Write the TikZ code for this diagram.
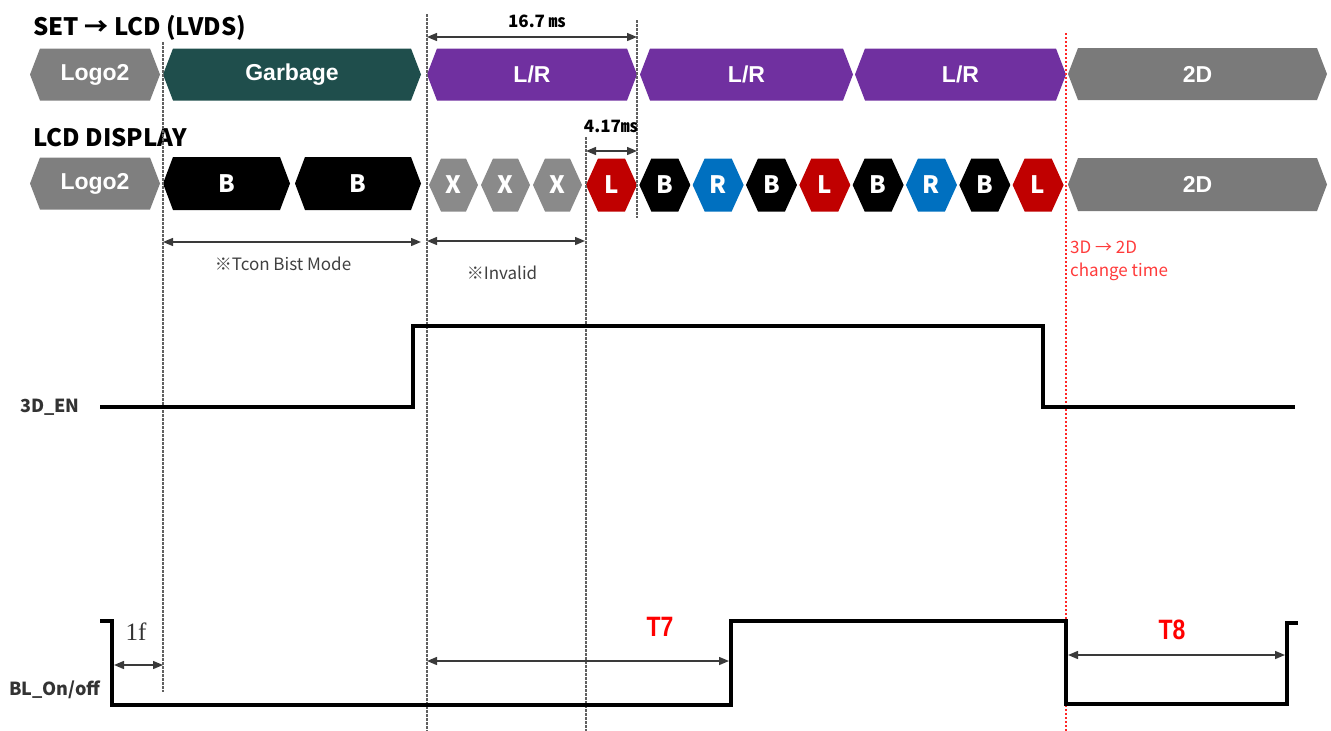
\documentclass[tikz,border=0pt]{standalone}
\usepackage{fontspec}
\setmainfont{Liberation Sans}
\newfontfamily\cjk{Noto Sans CJK KR}
\usetikzlibrary{arrows.meta}
\definecolor{cLogo}{HTML}{7F7F7F}
\definecolor{cGarb}{HTML}{1F4E4C}
\definecolor{cLR}{HTML}{7030A0}
\definecolor{cTwoD}{HTML}{7A7A7A}
\definecolor{cX}{HTML}{8A8A8A}
\definecolor{cL}{HTML}{C00000}
\definecolor{cR}{HTML}{0070C0}
\definecolor{cB}{HTML}{000000}
\definecolor{cDim}{HTML}{3A3A3A}
\definecolor{cNote}{HTML}{FF3B3B}
\newcommand\hexcell[9]{% name, x1, x2, yc, halfh, d, fill, font, text
  \fill[#7] ({#2},{#4}) -- ({#2+#6},{#4-#5}) -- ({#3-#6},{#4-#5}) -- ({#3},{#4})
    -- ({#3-#6},{#4+#5}) -- ({#2+#6},{#4+#5}) -- cycle;
  \node[hexlabel,font=#8] (#1) at ({(#2+#3)/2},{#4}) {#9};}
\begin{document}
\begin{tikzpicture}[x=1pt,y=-1pt,
  hexlabel/.style={text=white,inner sep=0pt},
  guide/.style={draw=gray!75!black,line width=1.3pt,dash pattern=on 2.5pt off 1.5pt},
  redguide/.style={draw=red!85,line width=1.2pt,dash pattern=on 2pt off 2pt},
  dim/.style={draw=cDim,line width=1.4pt,{Triangle[length=10pt,width=8pt]}-{Triangle[length=10pt,width=8pt]}},
  wave/.style={draw=black,line width=3.8pt,line join=miter},
  title/.style={font=\cjk\bfseries\fontsize{24}{27}\selectfont,anchor=west,inner sep=0pt},
  sig/.style={font=\cjk\bfseries\fontsize{18}{21}\selectfont,anchor=west,inner sep=0pt,text=black!80},
  note/.style={font=\cjk\fontsize{17}{20}\selectfont,text=black!75,inner sep=0pt},
  rednote/.style={font=\cjk\fontsize{17}{20}\selectfont,text=cNote,anchor=west,inner sep=0pt},
  tlabel/.style={font=\bfseries\fontsize{28}{32}\selectfont,text=red,inner sep=0pt},
  mslabel/.style={font=\cjk\bfseries\fontsize{17}{20}\selectfont,inner sep=0pt}
]
\path[use as bounding box] (0,0) rectangle (1331,731);

% titles
\node[title] (t1) at (33,28) {SET → LCD (LVDS)};
\node[title] (t2) at (33,138) {LCD DISPLAY};

% row 1
\def\bf{\bfseries\fontsize{23}{27}\selectfont}
\hexcell{logoA}{30}{160}{74.5}{26}{10}{cLogo}{\bf}{Logo2}
\hexcell{garb}{163}{421}{74.5}{26}{10}{cGarb}{\bf}{Garbage}
\hexcell{lrA}{427}{637}{74.5}{26}{10}{cLR}{\bf}{L/R}
\hexcell{lrB}{640}{853}{74.5}{26}{10}{cLR}{\bf}{L/R}
\hexcell{lrC}{855}{1066}{74.5}{26}{10}{cLR}{\bf}{L/R}
\hexcell{twoA}{1068}{1327}{74}{26}{10}{cTwoD}{\bf}{2D}

% row 2
\hexcell{logoB}{30}{160}{183.5}{26}{10}{cLogo}{\bf}{Logo2}
\hexcell{bA}{163}{290}{183.5}{26.5}{10}{cB}{\cjk\bfseries\fontsize{24}{28}\selectfont}{B}
\hexcell{bB}{295}{421}{183.5}{26.5}{10}{cB}{\cjk\bfseries\fontsize{24}{28}\selectfont}{B}
\foreach \i in {0,1,2}{
  \pgfmathsetmacro\xa{429+52*\i}
  \pgfmathsetmacro\xb{\xa+49}
  \hexcell{x\i}{\xa}{\xb}{185}{26.5}{12}{cX}{\cjk\bfseries\fontsize{24}{28}\selectfont}{X}
}
\foreach \i/\c/\t in {0/cL/L,1/cB/B,2/cR/R,3/cB/B,4/cL/L,5/cB/B,6/cR/R,7/cB/B,8/cL/L}{
  \pgfmathsetmacro\xa{586+53.33*\i}
  \pgfmathsetmacro\xb{\xa+51}
  \hexcell{s\i}{\xa}{\xb}{185}{26.5}{12}{\c}{\cjk\bfseries\fontsize{24}{28}\selectfont}{\t}
}
\hexcell{twoB}{1068}{1327}{184.5}{26.5}{10}{cTwoD}{\bf}{2D}

% guide lines
\coordinate (g1t) at (163,42);  \coordinate (g1b) at (163,692);
\coordinate (g2t) at (427,14);  \coordinate (g2b) at (427,731);
\coordinate (g3t) at (637,20);  \coordinate (g3b) at (637,218);
\coordinate (g4t) at (586,137); \coordinate (g4b) at (586,731);
\coordinate (g5t) at (1066,33); \coordinate (g5b) at (1066,731);
\draw[guide] (g1t) -- (g1b);
\draw[guide] (g2t) -- (g2b);
\draw[guide] (g3t) -- (g3b);
\draw[guide] (g4t) -- (g4b);
\draw[redguide] (g5t) -- (g5b);

% dimension arrows, top
\coordinate (d1a) at (427,37); \coordinate (d1b) at (637,37);
\draw[dim] (d1a) -- (d1b);
\node[mslabel] (ms1) at (537,21) {16.7 ㎳};
\coordinate (d2a) at (586,151); \coordinate (d2b) at (637,151);
\draw[dim] (d2a) -- (d2b);
\node[mslabel] (ms2) at (611,126) {4.17㎳};
\coordinate (d3a) at (163,242); \coordinate (d3b) at (421,242);
\draw[dim] (d3a) -- (d3b);
\node[note] (n1) at (283,264) {※Tcon Bist Mode};
\coordinate (d4a) at (427,241); \coordinate (d4b) at (585,241);
\draw[dim] (d4a) -- (d4b);
\node[note] (n2) at (502,273) {※Invalid};
\node[rednote] (n3) at (1070,247) {3D → 2D};
\node[rednote] (n4) at (1070,272) {change time};

% 3D_EN
\node[sig] (en) at (20,407) {3D\_EN};
\coordinate (e0) at (100,407);
\coordinate (e1) at (413,407);
\coordinate (e2) at (413,326);
\coordinate (e3) at (1043,326);
\coordinate (e4) at (1043,407);
\coordinate (e5) at (1295,407);
\draw[wave] (e0) -- (e1) -- (e2) -- (e3) -- (e4) -- (e5);

% BL_On/off
\node[sig] (bl) at (9,690) {BL\_On/off};
\coordinate (b0) at (100,621);
\coordinate (b1) at (112,621);
\coordinate (b2) at (112,705);
\coordinate (b3) at (731,705);
\coordinate (b4) at (731,621);
\coordinate (b5) at (1066,621);
\coordinate (b6) at (1066,704);
\coordinate (b7) at (1287,704);
\coordinate (b8) at (1287,623);
\coordinate (b9) at (1298,623);
\draw[wave] (b0) -- (b1) -- (b2) -- (b3) -- (b4) -- (b5) -- (b6) -- (b7) -- (b8) -- (b9);

% bottom dimension arrows
\coordinate (f1a) at (114,665); \coordinate (f1b) at (163,665);
\draw[dim] (f1a) -- (f1b);
\node[font=\fontspec{Liberation Serif}\fontsize{25}{28}\selectfont,text=black!80,inner sep=0pt] (onef) at (136,632) {1f};
\coordinate (t7a) at (427,661); \coordinate (t7b) at (729,661);
\draw[dim] (t7a) -- (t7b);
\node[tlabel] (T7) at (660,627) {\scalebox{0.82}[1]{T7}};
\coordinate (t8a) at (1068,655); \coordinate (t8b) at (1285,655);
\draw[dim] (t8a) -- (t8b);
\node[tlabel] (T8) at (1172,630) {\scalebox{0.82}[1]{T8}};
\end{tikzpicture}
\end{document}
